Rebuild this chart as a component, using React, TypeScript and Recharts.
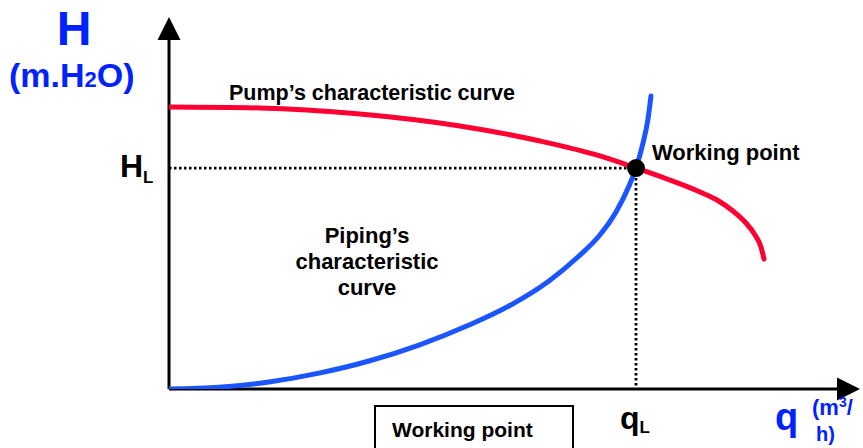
import React from 'react';
import { ComposedChart, Line, XAxis, YAxis, ReferenceLine, ReferenceDot } from 'recharts';

// Flow q (m3/h, arbitrary scale) and head H (m.H2O, arbitrary scale)
const pumpFlow = [0, 13.17, 27.64, 42.11, 53.69, 62.37, 67.58, 72.07, 76.85, 79.31, 81.62, 83.36, 84.81, 85.67, 86.11];
const pumpHead = [37.9, 37.77, 36.96, 35.35, 33.33, 31.32, 29.7, 28.23, 26.48, 25.4, 23.92, 22.45, 20.7, 19.09, 17.47];

const pipeFlow = [0, 7.24, 14.47, 21.71, 28.94, 36.18, 43.42, 49.2, 54.99, 59.33, 62.23, 64.69, 66.57, 67.58, 68.6, 69.32, 69.75];
const pipeHead = [0, 0.24, 0.94, 2.13, 3.76, 5.91, 8.6, 11.16, 14.52, 17.88, 20.56, 23.79, 27.28, 29.7, 33.06, 36.29, 39.38];

const workingFlow = 67.58;
const workingHead = 29.7;
const flowMax = 100;
const headMax = 50;

const pumpData = pumpFlow.map((q, i) => ({ q, h: pumpHead[i] }));
const pipeData = pipeFlow.map((q, i) => ({ q, h: pipeHead[i] }));

const FONT = '"Liberation Sans", Arial, sans-serif';
const TEXT_BLUE = '#0022FF';

const ArrowAxis = (props: any) => {
  const { x1, y1, x2, y2 } = props;
  const dx = x2 - x1;
  const dy = y2 - y1;
  const len = Math.hypot(dx, dy) || 1;
  const ux = dx / len;
  const uy = dy / len;
  const headLen = 23;
  const half = 11.5;
  const bx = x2 - ux * headLen;
  const by = y2 - uy * headLen;
  const px = -uy;
  const py = ux;
  return (
    <g>
      <line x1={x1} y1={y1} x2={bx} y2={by} stroke="#000" strokeWidth={3} />
      <polygon
        points={`${x2},${y2} ${bx + px * half},${by + py * half} ${bx - px * half},${by - py * half}`}
        fill="#000"
      />
    </g>
  );
};

export default function App() {
  return (
    <div style={{ position: 'absolute', left: 0, top: 0, width: 863, height: 448, background: '#fff', overflow: 'hidden' }}>
      <ComposedChart width={863} height={448} margin={{ top: 17, right: 3, bottom: 59, left: 169 }}>
        <XAxis type="number" dataKey="q" domain={[0, flowMax]} hide allowDataOverflow />
        <YAxis type="number" dataKey="h" domain={[0, headMax]} hide allowDataOverflow />
        <ReferenceLine
          segment={[{ x: 0, y: workingHead }, { x: workingFlow, y: workingHead }]}
          stroke="#000"
          strokeWidth={2.8}
          strokeDasharray="2.5 2.5"
        />
        <ReferenceLine
          segment={[{ x: workingFlow, y: workingHead }, { x: workingFlow, y: 0 }]}
          stroke="#000"
          strokeWidth={2.8}
          strokeDasharray="2.5 2.5"
        />
        <ReferenceLine segment={[{ x: 0, y: 0 }, { x: 0, y: headMax }]} shape={ArrowAxis} />
        <ReferenceLine segment={[{ x: 0, y: 0 }, { x: flowMax, y: 0 }]} shape={ArrowAxis} />
        <Line
          data={pumpData}
          dataKey="h"
          type="monotone"
          stroke="#FF0033"
          strokeWidth={5}
          strokeLinecap="round"
          dot={false}
          isAnimationActive={false}
        />
        <Line
          data={pipeData}
          dataKey="h"
          type="monotone"
          stroke="#1A55FF"
          strokeWidth={5}
          strokeLinecap="round"
          dot={false}
          isAnimationActive={false}
        />
        <ReferenceDot x={workingFlow} y={workingHead} r={9} fill="#000" stroke="none" />
      </ComposedChart>
      <svg
        width={863}
        height={448}
        style={{ position: 'absolute', left: 0, top: 0, pointerEvents: 'none' }}
        fontFamily={FONT}
        fontWeight="bold"
      >
        <text x={74} y={45} fontSize={48} fill={TEXT_BLUE} textAnchor="middle">H</text>
        <text x={9} y={87} fontSize={34} fill={TEXT_BLUE}>
          (m.H<tspan fontSize={22}>2</tspan>O)
        </text>
        <text x={120} y={177} fontSize={32} fill="#000">
          H<tspan fontSize={17} dy={6}>L</tspan>
        </text>
        <text x={372} y={100} fontSize={21.5} fill="#000" textAnchor="middle">Pump’s characteristic curve</text>
        <text x={652} y={160} fontSize={22} fill="#000">Working point</text>
        <text x={367} y={243} fontSize={22} fill="#000" textAnchor="middle">Piping’s</text>
        <text x={367} y={269} fontSize={22} fill="#000" textAnchor="middle">characteristic</text>
        <text x={367} y={295} fontSize={22} fill="#000" textAnchor="middle">curve</text>
        <rect x={375} y={406} width={198} height={60} fill="none" stroke="#000" strokeWidth={2} />
        <text x={392} y={437} fontSize={21} fill="#000">Working point</text>
        <text x={620} y={429} fontSize={32} fill="#000">
          q<tspan fontSize={17} dy={4}>L</tspan>
        </text>
        <text x={775} y={430} fontSize={38} fill={TEXT_BLUE}>q</text>
        <text x={812} y={415} fontSize={22} fill={TEXT_BLUE}>
          (m<tspan fontSize={14} dy={-8}>3</tspan><tspan dy={8}>/</tspan>
        </text>
        <text x={816} y={441} fontSize={20} fill={TEXT_BLUE}>h)</text>
      </svg>
    </div>
  );
}
